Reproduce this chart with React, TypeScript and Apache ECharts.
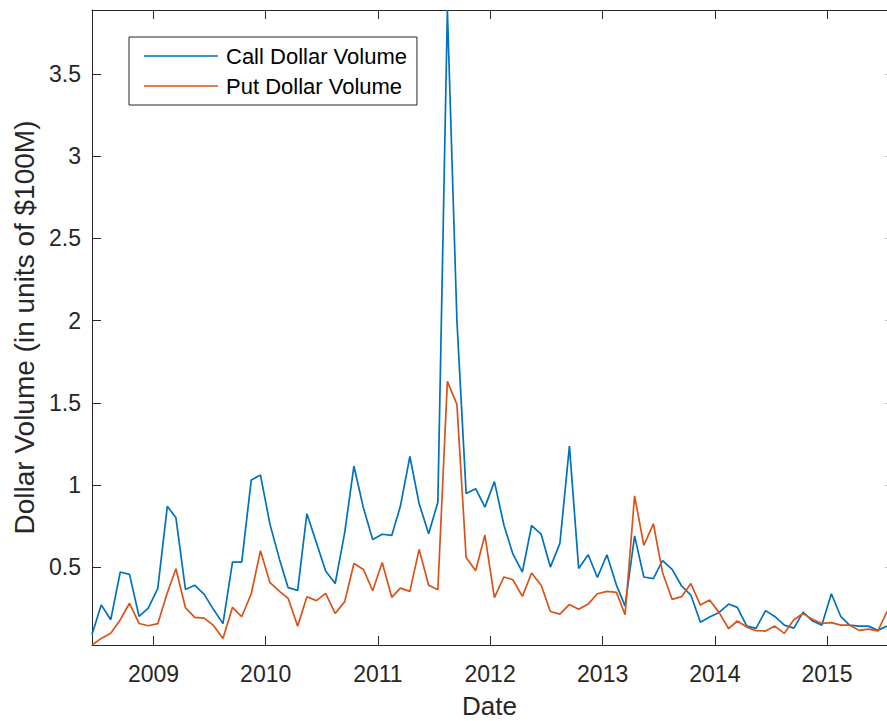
import React, { useEffect, useRef } from "react";
import * as echarts from "echarts";

const dates: string[] = [
  "2008-06-15", "2008-07-15", "2008-08-15", "2008-09-15", "2008-10-15", "2008-11-15", "2008-12-15",
  "2009-01-15", "2009-02-15", "2009-03-15", "2009-04-15", "2009-05-15", "2009-06-15", "2009-07-15", "2009-08-15", "2009-09-15", "2009-10-15", "2009-11-15", "2009-12-15",
  "2010-01-15", "2010-02-15", "2010-03-15", "2010-04-15", "2010-05-15", "2010-06-15", "2010-07-15", "2010-08-15", "2010-09-15", "2010-10-15", "2010-11-15", "2010-12-15",
  "2011-01-15", "2011-02-15", "2011-03-15", "2011-04-15", "2011-05-15", "2011-06-15", "2011-07-15", "2011-08-15", "2011-09-15", "2011-10-15", "2011-11-15", "2011-12-15",
  "2012-01-15", "2012-02-15", "2012-03-15", "2012-04-15", "2012-05-15", "2012-06-15", "2012-07-15", "2012-08-15", "2012-09-15", "2012-10-15", "2012-11-15", "2012-12-15",
  "2013-01-15", "2013-02-15", "2013-03-15", "2013-04-15", "2013-05-15", "2013-06-15", "2013-07-15", "2013-08-15", "2013-09-15", "2013-10-15", "2013-11-15", "2013-12-15",
  "2014-01-15", "2014-02-15", "2014-03-15", "2014-04-15", "2014-05-15", "2014-06-15", "2014-07-15", "2014-08-15", "2014-09-15", "2014-10-15", "2014-11-15", "2014-12-15",
  "2015-01-15", "2015-02-15", "2015-03-15", "2015-04-15", "2015-05-15", "2015-06-15", "2015-07-15",
];

const callVolume: number[] = [
  0.09, 0.27, 0.18, 0.47, 0.456, 0.2, 0.25, 0.37, 0.87, 0.8,
  0.364, 0.39, 0.334, 0.243, 0.156, 0.53, 0.53, 1.03, 1.06, 0.76,
  0.547, 0.375, 0.358, 0.825, 0.648, 0.476, 0.4, 0.71, 1.114, 0.86,
  0.668, 0.7, 0.693, 0.87, 1.173, 0.887, 0.703, 0.895, 3.89, 2.0,
  0.948, 0.977, 0.865, 1.02, 0.755, 0.58, 0.47, 0.753, 0.7, 0.5,
  0.644, 1.236, 0.492, 0.575, 0.437, 0.575, 0.39, 0.263, 0.69, 0.44,
  0.43, 0.539, 0.486, 0.385, 0.33, 0.164, 0.196, 0.224, 0.275, 0.255,
  0.141, 0.127, 0.235, 0.2, 0.147, 0.129, 0.226, 0.172, 0.147, 0.338,
  0.198, 0.147, 0.141, 0.141, 0.115, 0.141,
];

const putVolume: number[] = [
  0.026, 0.066, 0.097, 0.18, 0.28, 0.157, 0.143, 0.156, 0.344, 0.49,
  0.253, 0.194, 0.19, 0.145, 0.066, 0.255, 0.198, 0.338, 0.6, 0.405,
  0.352, 0.31, 0.14, 0.32, 0.296, 0.34, 0.218, 0.29, 0.522, 0.486,
  0.356, 0.528, 0.316, 0.372, 0.352, 0.608, 0.39, 0.362, 1.63, 1.49,
  0.559, 0.478, 0.695, 0.314, 0.44, 0.423, 0.322, 0.464, 0.39, 0.23,
  0.214, 0.273, 0.243, 0.275, 0.338, 0.352, 0.346, 0.21, 0.934, 0.632,
  0.764, 0.466, 0.304, 0.32, 0.4, 0.269, 0.3, 0.223, 0.125, 0.172,
  0.135, 0.113, 0.111, 0.141, 0.097, 0.18, 0.218, 0.182, 0.157, 0.162,
  0.147, 0.147, 0.115, 0.123, 0.111, 0.229,
];

const yTicks: number[] = [0.5, 1, 1.5, 2, 2.5, 3, 3.5];

const seriesNames = ["Call Dollar Volume", "Put Dollar Volume"];
const colors = ["#0072BD", "#D95319"];

const FONT = "'Liberation Sans', Arial, Helvetica, sans-serif";
const AX = "#262626";

export default function App() {
  const ref = useRef<HTMLDivElement>(null);
  useEffect(() => {
    if (!ref.current) return;
    const chart = echarts.init(ref.current, undefined, { renderer: "svg" });
    const ts = dates.map((d) => new Date(d + "T00:00:00Z").getTime());
    const YEAR = 365 * 24 * 3600 * 1000;
    const xMin = ts[0];
    const xMax = ts[ts.length - 1];
    const baseX = {
      type: "time" as const,
      min: xMin,
      max: xMax,
      minInterval: YEAR,
      maxInterval: YEAR,
      splitLine: { show: false },
      axisLine: { show: true, onZero: false, lineStyle: { color: AX, width: 1 } },
    };
    const option: any = {
      animation: false,
      backgroundColor: "#ffffff",
      textStyle: { fontFamily: FONT },
      useUTC: true,
      grid: { left: 92, top: 10, right: 0, bottom: 76, containLabel: false, outerBoundsMode: "none" },
      legend: {
        data: seriesNames.map((n) => ({ name: n, icon: "rect" })),
        orient: "vertical",
        left: 129,
        top: 37,
        padding: [8, 10, 8, 15],
        itemGap: 8,
        itemWidth: 74,
        itemHeight: 1.7,
        backgroundColor: "#ffffff",
        borderColor: AX,
        borderWidth: 1,
        borderRadius: 0,
        textStyle: { fontFamily: FONT, fontSize: 22, color: "#000", lineHeight: 22, padding: [0, 0, 0, 3] },
      },
      xAxis: [
        {
          ...baseX,
          position: "bottom",
          name: "Date",
          nameLocation: "middle",
          nameGap: 48,
          nameTextStyle: { fontFamily: FONT, fontSize: 26, lineHeight: 26, color: AX },
          axisTick: { show: true, inside: true, length: 9, lineStyle: { color: AX } },
          axisLabel: {
            fontFamily: FONT,
            fontSize: 23,
            color: AX,
            margin: 17,
            formatter: (v: number) => String(new Date(v).getUTCFullYear()),
          },
        },
        {
          ...baseX,
          position: "top",
          axisTick: { show: true, inside: true, length: 9, lineStyle: { color: AX } },
          axisLabel: { show: false },
        },
      ],
      yAxis: [
        {
          type: "value",
          position: "left",
          min: (v: any) => v.min,
          max: (v: any) => v.max,
          name: "Dollar Volume (in units of $100M)",
          nameLocation: "middle",
          nameGap: 53,
          nameTextStyle: { fontFamily: FONT, fontSize: 28, color: AX },
          splitLine: { show: false },
          axisLine: { show: true, onZero: false, lineStyle: { color: AX, width: 1 } },
          axisTick: { show: true, inside: true, length: 9, lineStyle: { color: AX }, customValues: yTicks },
          axisLabel: { fontFamily: FONT, fontSize: 23, color: AX, margin: 11, customValues: yTicks },
        },
        {
          type: "value",
          position: "right",
          min: (v: any) => v.min,
          max: (v: any) => v.max,
          splitLine: { show: false },
          axisLine: { show: false },
          axisTick: { show: true, inside: true, length: 2, lineStyle: { color: "#bbbbbb" }, customValues: yTicks },
          axisLabel: { show: false, customValues: yTicks },
        },
      ],
      series: [
        {
          name: seriesNames[0],
          type: "line",
          symbol: "none",
          xAxisIndex: 0,
          yAxisIndex: 0,
          color: colors[0],
          lineStyle: { color: colors[0], width: 1.7 },
          data: ts.map((t, i) => [t, callVolume[i]]),
        },
        {
          name: seriesNames[1],
          type: "line",
          symbol: "none",
          xAxisIndex: 0,
          yAxisIndex: 0,
          color: colors[1],
          lineStyle: { color: colors[1], width: 1.7 },
          data: ts.map((t, i) => [t, putVolume[i]]),
        },
        {
          type: "line",
          symbol: "none",
          xAxisIndex: 1,
          yAxisIndex: 1,
          silent: true,
          lineStyle: { opacity: 0 },
          data: [[xMin, Math.min(...putVolume)], [xMax, Math.max(...callVolume)]],
        },
      ],
    };
    chart.setOption(option);
    return () => chart.dispose();
  }, []);
  return (
    <div
      ref={ref}
      style={{ position: "fixed", left: 0, top: 0, width: 887, height: 721, background: "#fff" }}
    />
  );
}
